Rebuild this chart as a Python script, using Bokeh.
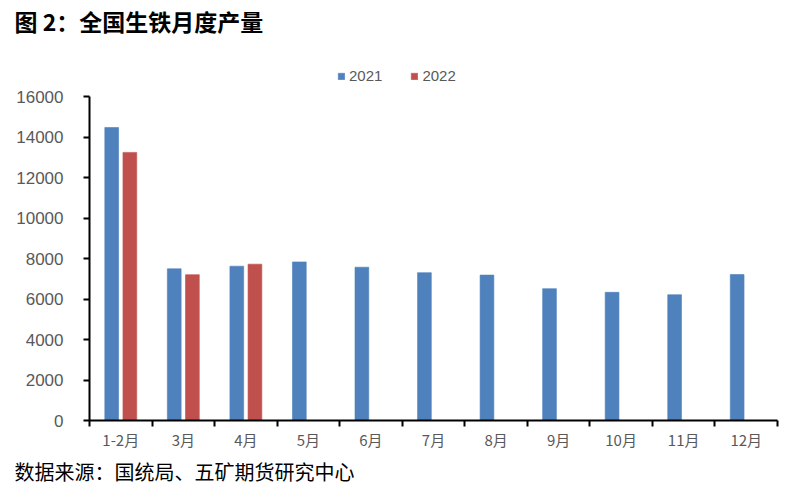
from bokeh.plotting import figure
from bokeh.models import ColumnDataSource, Range1d, FixedTicker, Legend, LegendItem, Title
from bokeh.transform import dodge
from bokeh.embed import file_html
from bokeh.resources import INLINE

categories = ["1-2月", "3月", "4月", "5月", "6月", "7月", "8月", "9月", "10月", "11月", "12月"]
output_2021 = [14470, 7490, 7620, 7830, 7570, 7300, 7180, 6510, 6330, 6210, 7210]
output_2022 = [13240, 7200, 7720]
y_ticks = [0, 2000, 4000, 6000, 8000, 10000, 12000, 14000, 16000]
series_names = ["2021", "2022"]
title_text = "图 2：全国生铁月度产量"
source_text = "数据来源：国统局、五矿期货研究中心"

BLUE = "#4F81BD"
RED = "#C0504D"
GRAY = "#595959"

W, H = 800, 500
FRAME_L, FRAME_R = 89, 777
AXIS_TOP, FRAME_B = 96, 420      # pixel rows of the 16000 tick and of 0
FRAME_T = 37                     # frame extends above the axis to hold the legend

n = len(categories)
centers = [i + 0.5 for i in range(n)]
y_max = y_ticks[-1]
y_end = y_max * (FRAME_B - FRAME_T) / (FRAME_B - AXIS_TOP)

src21 = ColumnDataSource(dict(x=centers, y=output_2021, cat=categories))
src22 = ColumnDataSource(dict(x=centers[:len(output_2022)], y=output_2022,
                              cat=categories[:len(output_2022)]))

p = figure(width=W, height=H, output_backend="svg", toolbar_location=None,
           x_range=Range1d(0, n), y_range=Range1d(0, y_end),
           min_border_left=FRAME_L, min_border_right=W - FRAME_R,
           min_border_top=FRAME_T, min_border_bottom=H - FRAME_B)
p.outline_line_color = None
p.xgrid.visible = False
p.ygrid.visible = False
p.background_fill_color = "white"
p.border_fill_color = "white"

r1 = p.vbar(x=dodge("x", -0.145, range=p.x_range), top="y", width=0.22, source=src21,
            fill_color=BLUE, line_color=BLUE, line_alpha=0.6)
r2 = p.vbar(x=dodge("x", 0.145, range=p.x_range), top="y", width=0.22, source=src22,
            fill_color=RED, line_color=RED, line_alpha=0.6)

# x axis: labels at centers, ticks at boundaries
xa = p.xaxis[0]
xa.ticker = FixedTicker(ticks=centers, minor_ticks=list(range(n + 1)))
xa.major_label_overrides = {c: lab for c, lab in zip(centers, categories)}
xa.major_tick_in = 0
xa.major_tick_out = 0
xa.minor_tick_in = 0
xa.minor_tick_out = 6
xa.minor_tick_line_color = "black"
xa.minor_tick_line_width = 2
xa.axis_line_color = "black"
xa.axis_line_width = 2
xa.major_label_text_font = "Noto Sans CJK SC"
xa.major_label_text_font_size = "15px"
xa.major_label_text_color = GRAY
xa.major_label_standoff = 2

ya = p.yaxis[0]
ya.ticker = FixedTicker(ticks=y_ticks)
ya.bounds = (0, y_max)
ya.minor_tick_line_color = None
ya.major_tick_in = 0
ya.major_tick_out = 6
ya.major_tick_line_color = "black"
ya.major_tick_line_width = 2
ya.axis_line_color = "black"
ya.axis_line_width = 2
ya.major_label_text_font = "Liberation Sans"
ya.major_label_text_font_size = "17px"
ya.major_label_text_color = GRAY
ya.major_label_standoff = 20

p.title.text = title_text
p.title.text_font = "Noto Sans CJK SC"
p.title.text_font_style = "bold"
p.title.text_font_size = "23px"
p.title.text_color = "black"
p.title.align = "left"
p.title.offset = -75
p.title.standoff = 0

legend = Legend(items=[LegendItem(label=series_names[0], renderers=[r1]),
                       LegendItem(label=series_names[1], renderers=[r2])],
                orientation="horizontal", location=(248, 336),
                glyph_width=8, glyph_height=8, label_standoff=4, spacing=28,
                label_text_font="Liberation Sans", label_text_font_size="15px",
                label_text_color=GRAY, padding=0, margin=0,
                border_line_alpha=0, background_fill_alpha=0)
p.add_layout(legend)

src_title = Title(text=source_text, text_font="Noto Sans CJK SC", text_font_size="20px",
                  text_font_style="normal", text_color="black", align="left",
                  offset=-75, standoff=4)
p.add_layout(src_title, "below")

open("out.html", "w").write(file_html(p, INLINE))
